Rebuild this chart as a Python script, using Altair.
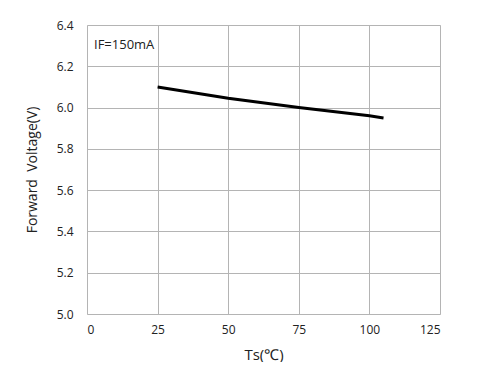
import altair as alt
import pandas as pd

temps = [25, 50, 75, 100, 105]
volts = [6.10, 6.045, 6.00, 5.96, 5.95]
x_ticks = [0, 25, 50, 75, 100, 125]
y_ticks = [5.0, 5.2, 5.4, 5.6, 5.8, 6.0, 6.2, 6.4]
note = "IF=150mA"

df = pd.DataFrame({"Ts": temps, "VF": volts})

FONT = "Open Sans"
GRID = "#b4b4b4"

line = alt.Chart(df).mark_line(color="black", strokeWidth=3).encode(
    x=alt.X("Ts:Q", scale=alt.Scale(domain=[0, 125], nice=False),
            axis=alt.Axis(values=x_ticks, title="Ts(℃)", grid=True, gridColor=GRID,
                          ticks=False, domain=False, labelPadding=10, labelFontSize=12,
                          titleFontSize=15, titlePadding=12, titleFontWeight="normal",
                          labelFont=FONT, titleFont=FONT, labelColor="#222", titleColor="#222")),
    y=alt.Y("VF:Q", scale=alt.Scale(domain=[5.0, 6.4], nice=False, zero=False),
            axis=alt.Axis(values=y_ticks, format=".1f", title="Forward \u00a0Voltage(V)", grid=True,
                          gridColor=GRID, ticks=False, domain=False, labelPadding=14,
                          labelFontSize=12, titleFontSize=14, titlePadding=17,
                          titleFontWeight="normal", labelFont=FONT, titleFont=FONT,
                          labelColor="#222", titleColor="#222")),
)

label = alt.Chart(pd.DataFrame({"t": [note]})).mark_text(
    align="left", baseline="middle", fontSize=13, font=FONT, color="#222"
).encode(x=alt.value(7), y=alt.value(20), text="t:N")

chart = (line + label).properties(
    width=353, height=289,
    padding={"left": 79, "top": 17, "right": 31, "bottom": 48},
    autosize=alt.AutoSizeParams(type="none"),
).configure_view(stroke=GRID, strokeWidth=1.2).configure(background="white")

chart.save("out.html", embed_options={"renderer": "svg", "actions": False})
